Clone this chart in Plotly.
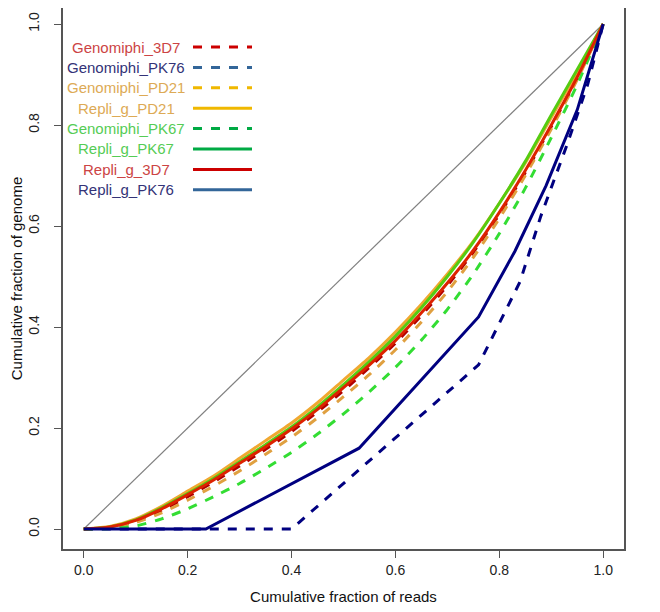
import plotly.graph_objects as go

# ---------------- data ----------------
x_grid = [0, 0.05, 0.1, 0.15, 0.2, 0.25, 0.3, 0.35, 0.4, 0.45, 0.5,
          0.55, 0.6, 0.65, 0.7, 0.75, 0.8, 0.85, 0.9, 0.95, 1.0]

repli_g_pd21 = [0, 0.005, 0.02, 0.045, 0.075, 0.105, 0.14, 0.175, 0.21, 0.25, 0.295,
                0.34, 0.39, 0.445, 0.505, 0.57, 0.645, 0.725, 0.815, 0.905, 1.0]
repli_g_3d7 = [0, 0.004, 0.017, 0.04, 0.068, 0.097, 0.13, 0.163, 0.198, 0.237, 0.28,
               0.325, 0.373, 0.428, 0.487, 0.552, 0.627, 0.71, 0.8, 0.895, 1.0]
genomiphi_3d7 = [0, 0.003, 0.015, 0.037, 0.064, 0.093, 0.125, 0.158, 0.193, 0.232, 0.274,
                 0.32, 0.368, 0.423, 0.482, 0.548, 0.623, 0.706, 0.797, 0.893, 1.0]
genomiphi_pd21 = [0, 0.003, 0.013, 0.032, 0.057, 0.085, 0.115, 0.148, 0.182, 0.22, 0.262,
                  0.306, 0.355, 0.41, 0.47, 0.538, 0.615, 0.7, 0.792, 0.89, 1.0]
genomiphi_pk67 = [0, 0.001, 0.006, 0.02, 0.04, 0.064, 0.09, 0.12, 0.152, 0.188, 0.228,
                  0.272, 0.32, 0.374, 0.435, 0.505, 0.585, 0.675, 0.775, 0.88, 1.0]
repli_g_pk67 = [0, 0.004, 0.018, 0.042, 0.07, 0.1, 0.133, 0.167, 0.202, 0.242, 0.286,
                0.332, 0.382, 0.438, 0.5, 0.568, 0.645, 0.728, 0.82, 0.91, 1.0]

pk76_repli_x = [0, 0.235, 0.53, 0.76, 0.83, 0.89, 0.95, 1.0]
pk76_repli_y = [0, 0.0, 0.16, 0.42, 0.55, 0.68, 0.83, 1.0]
pk76_geno_x = [0, 0.40, 0.76, 0.84, 0.88, 0.93, 0.97, 1.0]
pk76_geno_y = [0, 0.0, 0.325, 0.49, 0.62, 0.76, 0.88, 1.0]

diag_x = [0, 1]
diag_y = [0, 1]

series_names = ["Genomiphi_3D7", "Genomiphi_PK76", "Genomiphi_PD21", "Repli_g_PD21",
                "Genomiphi_PK67", "Repli_g_PK67", "Repli_g_3D7", "Repli_g_PK76"]
series_x = [x_grid, pk76_geno_x, x_grid, x_grid, x_grid, x_grid, x_grid, pk76_repli_x]
series_y = [genomiphi_3d7, pk76_geno_y, genomiphi_pd21, repli_g_pd21,
            genomiphi_pk67, repli_g_pk67, repli_g_3d7, pk76_repli_y]

tick_vals = [0.0, 0.2, 0.4, 0.6, 0.8, 1.0]
tick_text = ["0.0", "0.2", "0.4", "0.6", "0.8", "1.0"]

# ---------------- styles ----------------
line_colors = ["#b00000", "#000080", "#e0a040", "#f0a830",
               "#33dd33", "#55cc11", "#dd2200", "#000080"]
dashes = ["dash", "dash", "dash", "solid", "dash", "solid", "solid", "solid"]
legend_text_colors = ["#cc4444", "#333377", "#ddaa55", "#ddaa55",
                      "#55cc55", "#55cc55", "#cc4444", "#333377"]
legend_line_colors = ["#cc0000", "#336699", "#f0b800", "#f0b800",
                      "#00aa44", "#00aa44", "#cc0000", "#336699"]

FONT = "Liberation Sans, Arial, Helvetica, sans-serif"

fig = go.Figure()
fig.add_trace(go.Scatter(x=diag_x, y=diag_y, mode="lines",
                         line=dict(color="#808080", width=1.2), showlegend=False,
                         hoverinfo="skip"))
for name, xs, ys, col, d in zip(series_names, series_x, series_y, line_colors, dashes):
    smooth = xs is x_grid
    fig.add_trace(go.Scatter(x=xs, y=ys, mode="lines", name=name,
                             line=dict(color=col, width=3, dash=d,
                                       shape="spline" if smooth else "linear",
                                       smoothing=0.6 if smooth else None),
                             showlegend=False))

# plot area: figure px x 55..616, y 0..541 (page is offset by 8px body margin)
PA_W, PA_H = 561.0, 541.0
def px_x(page_x):
    return (page_x - 8 - 55) / PA_W
def px_y(page_y):
    return 1 - (page_y - 8) / PA_H

# custom legend (text on the left, line sample on the right)
row0 = 47.0
row_step = 20.4
for i, name in enumerate(series_names):
    yy = px_y(row0 + i * row_step)
    fig.add_annotation(x=px_x(126), y=yy, xref="paper", yref="paper", text=name,
                       showarrow=False, xanchor="center", yanchor="middle",
                       font=dict(family=FONT, size=15, color=legend_text_colors[i]))
    fig.add_shape(type="line", xref="paper", yref="paper", x0=px_x(193), x1=px_x(252),
                  y0=yy, y1=yy,
                  line=dict(color=legend_line_colors[i], width=3,
                            dash="dash" if dashes[i] == "dash" else "solid"))

axis_common = dict(tickvals=tick_vals, ticktext=tick_text,
                   ticks="outside", ticklen=7, tickwidth=1, tickcolor="#555555",
                   showline=True, linecolor="#555555", linewidth=1.5, mirror=True,
                   showgrid=False, zeroline=False, automargin=False,
                   tickfont=dict(family=FONT, size=14, color="#222222"))

fig.update_layout(
    width=660, height=612,
    margin=dict(l=55, r=44, t=0, b=71, autoexpand=False),
    paper_bgcolor="white", plot_bgcolor="white",
    xaxis=dict(**axis_common, range=[-0.04, 1.04],
               title=dict(text="Cumulative fraction of reads", standoff=15,
                          font=dict(family=FONT, size=15, color="#111111"))),
    yaxis=dict(**axis_common, range=[-0.0396, 1.0317], tickangle=-90,
               ticklabelstandoff=10,
               title=dict(text="Cumulative fraction of genome", standoff=1,
                          font=dict(family=FONT, size=15, color="#111111"))),
)

fig.write_html("out.html")
